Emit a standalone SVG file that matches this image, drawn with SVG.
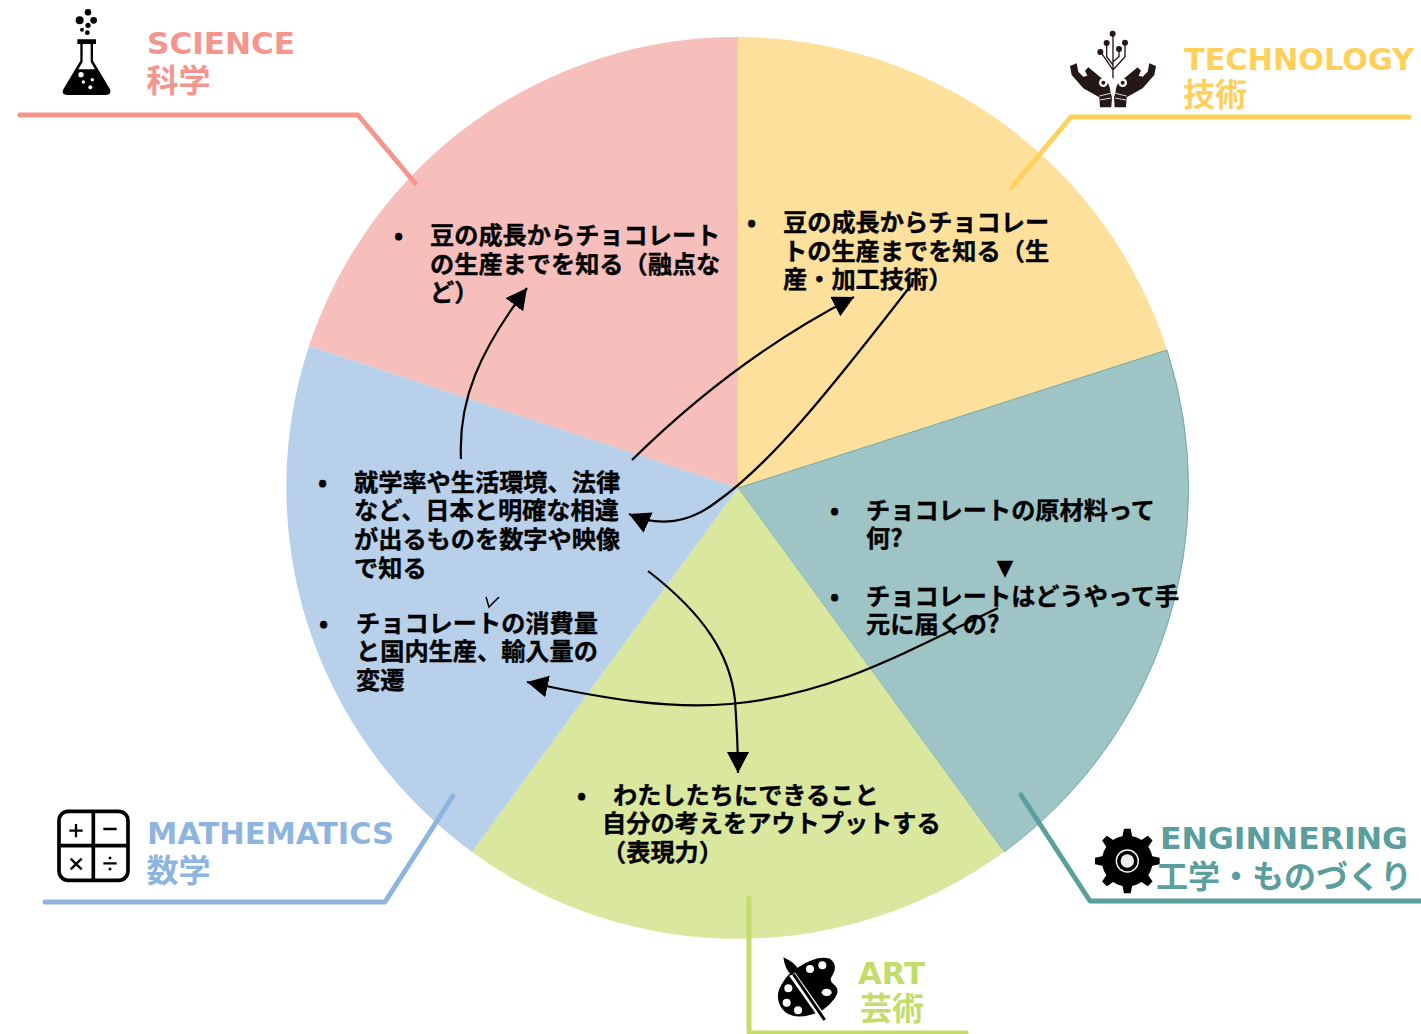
<svg xmlns="http://www.w3.org/2000/svg" width="1421" height="1034" viewBox="0 0 1421 1034">
<style>
.b{font:bold 24.2px "Noto Sans CJK JP","DejaVu Sans",sans-serif;fill:#000;stroke:#000;stroke-width:.35}
.l{font:bold 31px "DejaVu Sans","Noto Sans CJK JP",sans-serif}
.j{font:bold 32px "Noto Sans CJK JP",sans-serif}
.c{fill:none;stroke:#000;stroke-width:2.2}
.g{fill:none;stroke-width:5;stroke-linecap:round;stroke-linejoin:round}
</style>
<defs>
<marker id="ah" markerUnits="userSpaceOnUse" markerWidth="26" markerHeight="26" refX="21" refY="11" orient="auto"><path d="M0 0L21 11L0 22Z" fill="#000"/></marker>
<polygon id="tooth" points="-15,-72 -10,-97 10,-97 15,-72"/>
<path id="hand" d="M300 292L298 262L250 235L215 195L210 168L230 160L235 185L250 200L262 197L255 182L265 172L305 205Q330 215 332 250L336 262L334 292Z" fill="#231815"/>
</defs>
<g id="wedge-science"><path d="M738 488L309 346A451 451 0 0 1 738 37Z" fill="#f7bfbc"/></g>
<g id="wedge-technology"><path d="M738 488V37A451 451 0 0 1 1167 350Z" fill="#fde09c"/></g>
<g id="wedge-engineering"><path d="M738 488L1167 350A451 451 0 0 1 1004 852Z" fill="#9fc4c5" stroke="#5b9e9e" stroke-width=".8"/></g>
<g id="wedge-art"><path d="M738 488L1004 852A451 451 0 0 1 472 852Z" fill="#d9e79f"/></g>
<g id="wedge-math"><path d="M738 488L472 852A451 451 0 0 1 309 346Z" fill="#b8d0ea"/></g>

<g id="leaders">
<polyline class="g" stroke="#f4958e" points="20,115 358,115 415,183"/>
<polyline class="g" stroke="#ffd05b" points="1012,187 1071,117 1409,117"/>
<polyline class="g" stroke="#5b9e9e" points="1021,795 1090,901 1424,901"/>
<polyline class="g" stroke="#c3dd6a" points="749,898 749,1033 966,1033"/>
<polyline class="g" stroke="#8db5e0" points="453,796 385,902 45,902"/>
</g>

<g id="science">
<g transform="scale(.3333)">
<circle cx="264" cy="37" r="10"/><circle cx="239" cy="61" r="12"/><circle cx="281" cy="61" r="10"/><circle cx="264" cy="76" r="8"/><circle cx="246" cy="89" r="6"/><circle cx="262" cy="98" r="7"/>
<path d="M232 118H288V132H279V182L330 268Q335 285 318 285H202Q183 285 190 268L241 182V132H232Z"/>
<path d="M248 132H272V185L285 208H235L248 185Z" fill="#fff"/>
<circle cx="243" cy="224" r="8" fill="#fff"/><circle cx="250" cy="246" r="5" fill="#fff"/><circle cx="277" cy="239" r="5" fill="#fff"/><circle cx="271" cy="262" r="6" fill="#fff"/>
</g>
<text class="l" x="147" y="54" fill="#f4958e" textLength="148" lengthAdjust="spacingAndGlyphs">SCIENCE</text>
<text class="j" x="146.5" y="92" fill="#f4958e">科学</text>
<text class="b" x="394" y="243.5">•</text>
<text class="b" x="430" y="243.5">豆の成長からチョコレート</text>
<text class="b" x="430" y="272.5">の生産までを知る（融点な</text>
<text class="b" x="430" y="300.5">ど）</text>
</g>

<g id="technology">
<g transform="translate(1000 10) scale(.3333)">
<path d="M339 72V205M320 100V140L339 165M375 100V140L339 180M357 118V140L339 155M302 126L339 180" fill="none" stroke="#231815" stroke-width="4"/>
<circle cx="338" cy="71" r="9" fill="#231815"/><circle cx="320" cy="99" r="9" fill="#231815"/><circle cx="375" cy="98" r="9" fill="#231815"/><circle cx="357" cy="117" r="9" fill="#231815"/><circle cx="301" cy="126" r="9" fill="#231815"/>
<use href="#hand"/>
<circle cx="310" cy="218" r="13" fill="#fff"/><circle cx="310" cy="218" r="6" fill="#231815"/>
<path d="M298 258L332 250M300 270L333 264" stroke="#fff" stroke-width="2.5" fill="none"/>
<use href="#hand" transform="translate(678 0) scale(-1 1)"/>
<circle cx="368" cy="218" r="13" fill="#fff"/><circle cx="368" cy="218" r="6" fill="#231815"/>
<path d="M380 258L346 250M378 270L345 264" stroke="#fff" stroke-width="2.5" fill="none"/>
</g>
<text class="l" x="1184" y="69.5" fill="#ffd05b" textLength="230" lengthAdjust="spacingAndGlyphs" style="font-size:30.5px">TECHNOLOGY</text>
<text class="j" x="1183" y="106" fill="#ffd05b">技術</text>
<text class="b" x="747" y="230.5">•</text>
<text class="b" x="783" y="230.5">豆の成長からチョコレー</text>
<text class="b" x="783" y="259.5">トの生産までを知る（生</text>
<text class="b" x="783" y="287.5">産・加工技術）</text>
</g>

<g id="engineering">
<g transform="translate(1000 780) scale(.3333)">
<g transform="translate(382 243)">
<circle r="76"/>
<use href="#tooth"/><use href="#tooth" transform="rotate(45)"/><use href="#tooth" transform="rotate(90)"/><use href="#tooth" transform="rotate(135)"/><use href="#tooth" transform="rotate(180)"/><use href="#tooth" transform="rotate(225)"/><use href="#tooth" transform="rotate(270)"/><use href="#tooth" transform="rotate(315)"/>
<circle r="35" fill="#fff"/><circle r="31"/><circle r="20" fill="#eee"/>
</g>
</g>
<text class="l" x="1160" y="849" fill="#5b9e9e" textLength="248" lengthAdjust="spacingAndGlyphs">ENGINNERING</text>
<text class="j" x="1156" y="888" fill="#5b9e9e">工学・ものづくり</text>
<text class="b" x="830" y="518.5">•</text>
<text class="b" x="866" y="518.5">チョコレートの原材料って</text>
<text class="b" x="866" y="546.5">何?</text>
<text x="1005" y="575" text-anchor="middle" style="font:22px 'DejaVu Sans',sans-serif">▼</text>
<text class="b" x="830" y="604.5">•</text>
<text class="b" x="866" y="604.5">チョコレートはどうやって手</text>
<text class="b" x="866" y="632.5">元に届くの?</text>
</g>

<g id="art">
<g transform="translate(730 880) scale(.3333)">
<path d="M205 262Q260 225 300 236Q325 255 308 285Q295 300 310 312Q335 330 310 360Q285 395 240 405Q180 420 155 385Q130 345 160 305Q175 280 205 262Z"/>
<circle cx="240" cy="267" r="12" fill="#fff"/><circle cx="277" cy="256" r="12" fill="#fff"/><ellipse cx="290" cy="337" rx="15" ry="11" fill="#fff"/><circle cx="175" cy="325" r="12" fill="#fff"/><circle cx="170" cy="368" r="12" fill="#fff"/><circle cx="204" cy="391" r="12" fill="#fff"/>
<path d="M186 282L283 420" stroke="#fff" stroke-width="20"/>
<path d="M190 282L284 420" stroke="#000" stroke-width="9"/>
<path d="M160 232Q200 250 204 270L185 285Q165 270 160 232Z"/>
</g>
<text class="l" x="858" y="983.5" fill="#c3dd6a" textLength="67" lengthAdjust="spacingAndGlyphs">ART</text>
<text class="j" x="860" y="1020" fill="#c3dd6a">芸術</text>
<text class="b" x="577" y="803.5">•</text>
<text class="b" x="613" y="803.5">わたしたちにできること</text>
<text class="b" x="602" y="831.5">自分の考えをアウトプットする</text>
<text class="b" x="602" y="860.5">（表現力）</text>
</g>

<g id="mathematics">
<g transform="translate(30 780) scale(.3333)">
<rect x="87" y="94" width="207" height="207" rx="28" fill="#fff" stroke="#000" stroke-width="11"/>
<path d="M190 94V301M87 197H294" stroke="#000" stroke-width="11"/>
<path d="M138 132V172M118 152H158M220 147H260M122 236L155 268M155 236L122 268M220 250H260" stroke="#000" stroke-width="7"/>
<circle cx="240" cy="234" r="4.5"/><circle cx="240" cy="267" r="4.5"/>
</g>
<text class="l" x="147" y="844" fill="#8db5e0" textLength="247" lengthAdjust="spacingAndGlyphs">MATHEMATICS</text>
<text class="j" x="146.5" y="882" fill="#8db5e0">数学</text>
<text class="b" x="318" y="490.5">•</text>
<text class="b" x="354" y="490.5">就学率や生活環境、法律</text>
<text class="b" x="354" y="518.5">など、日本と明確な相違</text>
<text class="b" x="354" y="547.5">が出るものを数字や映像</text>
<text class="b" x="354" y="576.5">で知る</text>
<text class="b" x="319" y="631.5">•</text>
<text class="b" x="356" y="631.5">チョコレートの消費量</text>
<text class="b" x="356" y="659.5">と国内生産、輸入量の</text>
<text class="b" x="356" y="688.5">変遷</text>
</g>

<g id="connectors">
<path class="c" d="M461 459C458 400 480 350 527 288" marker-end="url(#ah)"/>
<path class="c" d="M632 460C695 398 770 340 854 297" marker-end="url(#ah)"/>
<path class="c" d="M912 284C830 390 770 465 715 503C690 522 660 528 629 514" marker-end="url(#ah)"/>
<path class="c" d="M648 571C705 615 730 655 735 700C737 730 738 750 738 773" marker-end="url(#ah)"/>
<path class="c" d="M998 608C900 655 830 695 730 704C670 709 610 700 527 682" marker-end="url(#ah)"/>
<path d="M499 597L489 607L486 597" fill="none" stroke="#000" stroke-width="1.5"/>
</g>
</svg>
